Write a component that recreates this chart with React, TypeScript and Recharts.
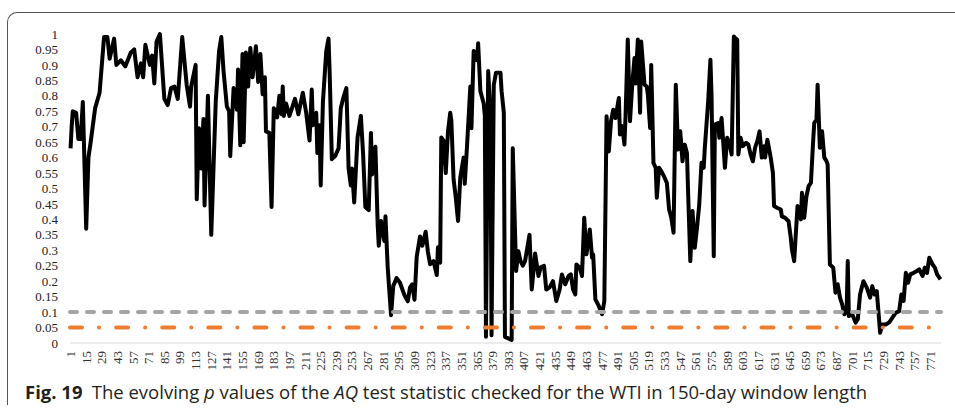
import React from 'react';
import { LineChart, Line, XAxis, YAxis, ReferenceLine } from 'recharts';

// window index (x) and AQ p value
const windowIdx = [
  1, 2, 3, 6, 8, 10, 12, 15, 17, 19, 23, 27, 29, 31, 34, 36, 40, 42, 46, 50,
  55, 58, 61, 64, 66, 68, 72, 74, 76, 78, 81, 85, 88, 91, 94, 97, 101, 105, 108, 109,
  113, 114, 116, 118, 120, 121, 124, 127, 131, 134, 136, 138, 141, 143, 144, 147, 150, 151, 153, 155,
  156, 158, 160, 162, 164, 167, 169, 171, 173, 175, 176, 179, 181, 183, 186, 188, 190, 191, 192, 194,
  197, 202, 205, 209, 212, 215, 217, 218, 221, 222, 224, 225, 227, 230, 232, 233, 235, 238, 241, 243,
  245, 248, 250, 252, 253, 255, 258, 261, 263, 265, 268, 270, 271, 274, 276, 277, 279, 282, 283, 285,
  288, 290, 293, 296, 300, 303, 305, 307, 309, 311, 314, 316, 319, 321, 323, 326, 329, 330, 332, 333,
  335, 337, 339, 341, 342, 344, 346, 348, 350, 353, 354, 356, 359, 360, 362, 365, 366, 368, 371, 372,
  373, 375, 377, 378, 380, 382, 386, 387, 389, 390, 393, 396, 397, 400, 402, 404, 406, 408, 412, 414,
  417, 420, 422, 425, 427, 430, 433, 436, 439, 441, 444, 447, 449, 451, 453, 454, 457, 459, 461, 463,
  466, 468, 469, 471, 474, 477, 479, 481, 483, 485, 487, 489, 492, 493, 495, 497, 498, 500, 502, 504,
  506, 507, 509, 511, 512, 515, 517, 518, 520, 521, 523, 525, 526, 528, 530, 533, 535, 537, 539, 541,
  543, 545, 547, 549, 551, 553, 554, 556, 558, 560, 562, 564, 566, 568, 569, 572, 574, 575, 577, 578,
  581, 582, 584, 585, 587, 589, 591, 593, 595, 596, 598, 599, 601, 603, 606, 608, 610, 612, 614, 616,
  618, 620, 622, 623, 625, 628, 630, 631, 634, 637, 638, 641, 644, 646, 647, 649, 652, 653, 655, 656,
  658, 660, 662, 664, 666, 667, 669, 670, 672, 674, 676, 678, 679, 681, 684, 686, 688, 690, 692, 694,
  696, 697, 698, 701, 704, 706, 708, 711, 714, 717, 719, 721, 723, 726, 728, 731, 734, 737, 740, 743,
  745, 747, 749, 751, 753, 756, 759, 761, 764, 766, 768, 770, 773, 775, 777, 780,
];

const pValues = [
  0.63, 0.70, 0.75, 0.745, 0.66, 0.66, 0.78, 0.37, 0.60, 0.65, 0.76, 0.81, 0.90, 0.99, 0.99, 0.92, 0.985, 0.90, 0.915, 0.895,
  0.94, 0.95, 0.86, 0.905, 0.86, 0.965, 0.90, 0.93, 0.84, 0.975, 1.0, 0.79, 0.77, 0.825, 0.83, 0.79, 0.99, 0.835, 0.765, 0.83,
  0.90, 0.465, 0.695, 0.565, 0.725, 0.445, 0.80, 0.35, 0.78, 0.945, 0.99, 0.88, 0.765, 0.75, 0.605, 0.825, 0.755, 0.885, 0.64, 0.935,
  0.65, 0.94, 0.83, 0.955, 0.86, 0.96, 0.845, 0.935, 0.805, 0.86, 0.685, 0.68, 0.44, 0.76, 0.73, 0.80, 0.74, 0.83, 0.735, 0.775,
  0.735, 0.79, 0.74, 0.81, 0.745, 0.655, 0.82, 0.705, 0.745, 0.615, 0.705, 0.51, 0.78, 0.945, 0.985, 0.88, 0.595, 0.605, 0.63, 0.76,
  0.79, 0.825, 0.565, 0.51, 0.565, 0.455, 0.665, 0.735, 0.61, 0.44, 0.43, 0.68, 0.545, 0.635, 0.385, 0.315, 0.395, 0.33, 0.41, 0.245,
  0.09, 0.185, 0.21, 0.195, 0.155, 0.135, 0.18, 0.19, 0.14, 0.28, 0.345, 0.315, 0.36, 0.295, 0.255, 0.265, 0.22, 0.31, 0.26, 0.665,
  0.655, 0.55, 0.685, 0.745, 0.72, 0.53, 0.47, 0.395, 0.535, 0.60, 0.515, 0.635, 0.83, 0.695, 0.945, 0.915, 0.97, 0.815, 0.775, 0.735,
  0.02, 0.88, 0.74, 0.025, 0.835, 0.875, 0.875, 0.815, 0.745, 0.02, 0.015, 0.01, 0.63, 0.233, 0.297, 0.265, 0.25, 0.265, 0.35, 0.173,
  0.29, 0.217, 0.245, 0.25, 0.173, 0.18, 0.20, 0.136, 0.173, 0.222, 0.19, 0.217, 0.222, 0.173, 0.157, 0.254, 0.244, 0.217, 0.405, 0.287,
  0.367, 0.276, 0.287, 0.141, 0.12, 0.093, 0.136, 0.734, 0.62, 0.718, 0.755, 0.728, 0.793, 0.675, 0.702, 0.642, 0.734, 0.982, 0.718, 0.836,
  0.922, 0.84, 0.982, 0.745, 0.976, 0.836, 0.83, 0.804, 0.696, 0.90, 0.583, 0.567, 0.47, 0.567, 0.556, 0.535, 0.518, 0.432, 0.405, 0.357,
  0.836, 0.626, 0.685, 0.588, 0.642, 0.615, 0.491, 0.265, 0.427, 0.308, 0.373, 0.448, 0.583, 0.567, 0.632, 0.782, 0.917, 0.804, 0.281, 0.707,
  0.712, 0.664, 0.728, 0.675, 0.567, 0.664, 0.648, 0.61, 0.992, 0.987, 0.982, 0.61, 0.664, 0.637, 0.648, 0.642, 0.61, 0.588, 0.632, 0.653,
  0.685, 0.60, 0.637, 0.60, 0.658, 0.60, 0.55, 0.443, 0.437, 0.432, 0.41, 0.405, 0.394, 0.34, 0.303, 0.265, 0.443, 0.432, 0.40, 0.486,
  0.405, 0.475, 0.508, 0.518, 0.653, 0.712, 0.723, 0.836, 0.632, 0.685, 0.60, 0.588, 0.578, 0.254, 0.244, 0.163, 0.19, 0.147, 0.125, 0.093,
  0.103, 0.265, 0.087, 0.093, 0.066, 0.077, 0.157, 0.20, 0.179, 0.147, 0.184, 0.157, 0.168, 0.033, 0.06, 0.06, 0.066, 0.082, 0.098, 0.103,
  0.157, 0.136, 0.227, 0.195, 0.222, 0.227, 0.233, 0.238, 0.217, 0.244, 0.227, 0.276, 0.254, 0.244, 0.222, 0.206,
];

const xTicks = [
  1, 15, 29, 43, 57, 71, 85, 99, 113, 127, 141, 155, 169, 183, 197, 211, 225, 239, 253, 267,
  281, 295, 309, 323, 337, 351, 365, 379, 393, 407, 421, 435, 449, 463, 477, 491, 505, 519, 533, 547,
  561, 575, 589, 603, 617, 631, 645, 659, 673, 687, 701, 715, 729, 743, 757, 771,
];

const yTicks = [0, 0.05, 0.1, 0.15, 0.2, 0.25, 0.3, 0.35, 0.4, 0.45, 0.5, 0.55, 0.6, 0.65, 0.7, 0.75, 0.8, 0.85, 0.9, 0.95, 1];

const cutoff10 = 0.1;
const cutoff5 = 0.05;

const data = windowIdx.map((idx, i) => ({ idx, p: pValues[i] }));

const serif = '"Liberation Serif", "Times New Roman", serif';

const XTick = ({ x, y, payload }: any) => (
  <text
    x={x}
    y={y}
    transform={`rotate(-90 ${x} ${y})`}
    textAnchor="end"
    dominantBaseline="central"
    fontSize={13}
    fontFamily={serif}
    fill="#333"
  >
    {payload.value}
  </text>
);

export default function App() {
  return (
    <div style={{ position: 'fixed', left: 0, top: 0, width: 955, height: 409, background: '#fff', overflow: 'hidden' }}>
      <div
        style={{
          position: 'absolute',
          left: 7,
          top: 12,
          width: 980,
          height: 392,
          borderTop: '1px solid #555',
          borderLeft: '1px solid #555',
          borderTopLeftRadius: 10,
        }}
      />
      <div style={{ position: 'absolute', left: 0, top: 0 }}>
        <LineChart width={955} height={409} data={data} margin={{ top: 34, right: 14, bottom: 0, left: 0 }}>
          <XAxis
            dataKey="idx"
            type="number"
            domain={[0.5, 780.5]}
            ticks={xTicks}
            interval={0}
            height={66}
            stroke="#D9D9D9"
            tickLine={false}
            tick={<XTick />}
          />
          <YAxis
            type="number"
            domain={[0, 1]}
            ticks={yTicks}
            interval={0}
            width={70}
            axisLine={false}
            tickLine={false}
            tickMargin={6}
            tick={{ fontSize: 13, fontFamily: serif, fill: '#222' }}
          />
          <Line
            type="linear"
            dataKey="p"
            stroke="#000"
            strokeWidth={4}
            strokeLinejoin="round"
            dot={false}
            isAnimationActive={false}
          />
          <ReferenceLine
            y={cutoff10}
            stroke="#A5A5A5"
            strokeWidth={4}
            strokeDasharray="7 10"
            strokeLinecap="round"
          />
          <ReferenceLine
            y={cutoff5}
            stroke="#ED7D31"
            strokeWidth={4}
            strokeDasharray="12 17 0.1 17"
            strokeLinecap="round"
          />
        </LineChart>
      </div>
      <div
        style={{
          position: 'absolute',
          left: 25,
          top: 383,
          fontFamily: '"Open Sans", Lato, sans-serif',
          fontSize: 18.5,
          lineHeight: '17px',
          color: '#231f20',
          whiteSpace: 'nowrap',
        }}
      >
        <b>Fig. 19</b>
        {'\u2002The evolving '}
        <i>p</i>
        {' values of the '}
        <i>AQ</i>
        {' test statistic checked for the WTI in 150-day window length'}
      </div>
    </div>
  );
}
